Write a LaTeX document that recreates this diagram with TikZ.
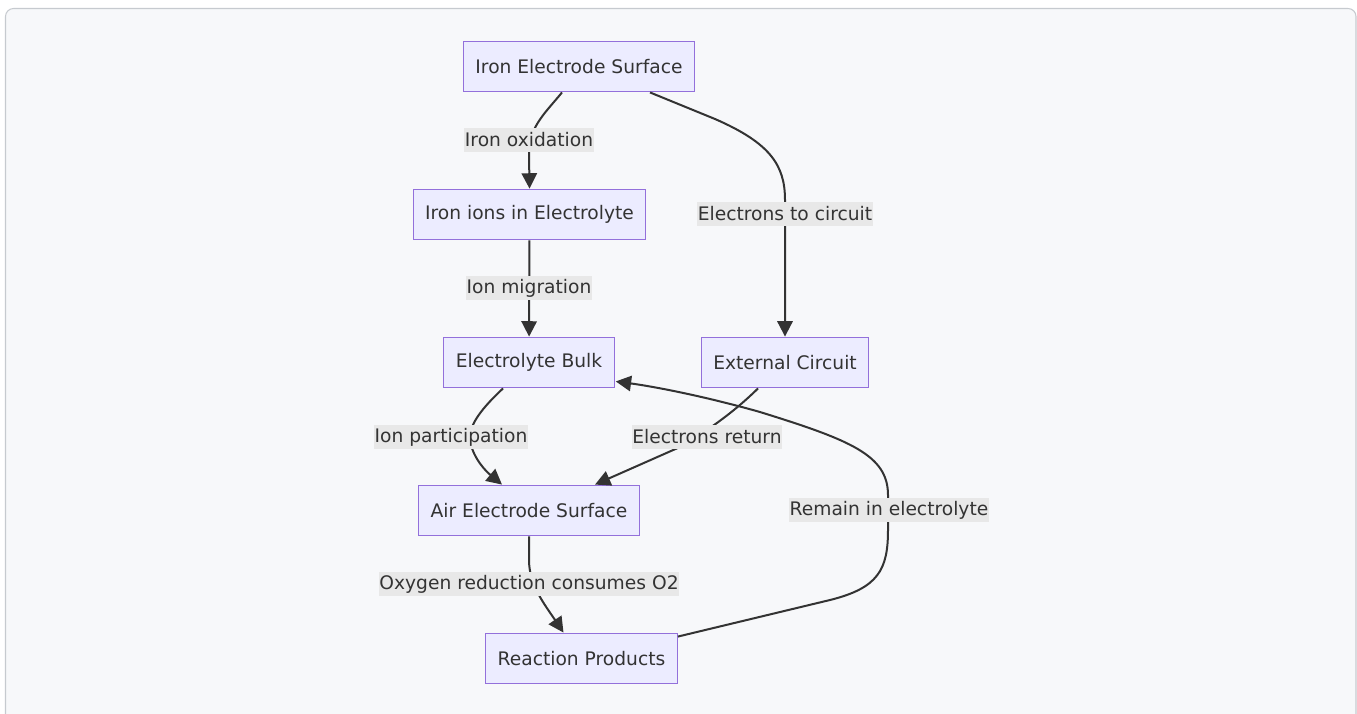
\documentclass[tikz,border=0pt]{standalone}
\usepackage{fontspec}
\setmainfont{DejaVu Sans}
\usetikzlibrary{arrows.meta,calc}
\definecolor{pagebg}{HTML}{F7F8FA}
\definecolor{pageline}{HTML}{C6CACF}
\definecolor{boxfill}{HTML}{ECECFF}
\definecolor{boxline}{HTML}{9370DB}
\definecolor{edgecol}{HTML}{333333}
\definecolor{lblfill}{HTML}{E8E8E8}
\definecolor{txt}{HTML}{333333}
\begin{document}
\begin{tikzpicture}[x=0.75pt, y=-0.75pt, font=\fontsize{14}{16}\selectfont,
    box/.style={draw=boxline, fill=boxfill, line width=0.9pt, minimum height=38pt, inner xsep=9pt, text=txt},
    lbl/.style={fill=lblfill, inner xsep=0.5pt, minimum height=18.5pt, inner ysep=2pt, text=txt},
    edge/.style={draw=edgecol, line width=1.5pt, -{Triangle[length=11.5pt, width=11.5pt]}}]
    \useasboundingbox (0,0) rectangle (1357,714);
    \draw[pageline, fill=pagebg, line width=0.8pt, rounded corners=6pt] (5.5,8.5) rectangle (1356,740);
    % nodes
    \node[box] (ironsurf) at (579,66.5) {Iron Electrode Surface};
    \node[box] (ions) at (529.5,214.5) {Iron ions in Electrolyte};
    \node[box] (bulk) at (529,362.5) {Electrolyte Bulk};
    \node[box] (circuit) at (785,362.5) {External Circuit};
    \node[box] (airsurf) at (529,510.5) {Air Electrode Surface};
    \node[box] (products) at (581.5,658.5) {Reaction Products};
    % connectors
    \draw[edge] ($(ironsurf.south)+(-17,0)$) .. controls (546,112) and (529,127) .. (529,152) -- (ions.north);
    \draw[edge] ($(ironsurf.south)+(71,0)$) -- (715,119) .. controls (770,143) and (785,165) .. (785,200) -- (circuit.north);
    \draw[edge] (ions) -- (bulk);
    \draw[edge] ($(bulk.south)+(-26,0)$) .. controls (482,408) and (470,424) .. (470,437) .. controls (470,452) and (482,468) .. ($(airsurf.north)+(-27,0)$);
    \draw[edge] ($(circuit.south)+(-27,0)$) .. controls (736,410) and (712,428) .. (680,447) -- ($(airsurf.north)+(66,0)$);
    \draw[edge] (airsurf.south) -- (529,560) .. controls (529,585) and (545,605) .. ($(products.north)+(-18,0)$);
    \draw[edge] ($(products.north east)+(0,4)$) -- (830,600) .. controls (878,588) and (888,570) .. (888,530) -- (888,495) .. controls (888,455) and (850,440) .. (760,412) .. controls (700,395) and (650,386) .. ($(bulk.south east)+(1,-7)$);
    % edge labels
    \node[lbl] (lbloxid) at (529,140) {Iron oxidation};
    \node[lbl] (lblcirc) at (785,214) {Electrons to circuit};
    \node[lbl] (lblmigr) at (529,288) {Ion migration};
    \node[lbl] (lblpart) at (451,437) {Ion participation};
    \node[lbl] (lblret) at (707,437) {Electrons return};
    \node[lbl] (lblremain) at (889,510) {Remain in electrolyte};
    \node[lbl] (lblred) at (529,584) {Oxygen reduction consumes O2};
\end{tikzpicture}
\end{document}
